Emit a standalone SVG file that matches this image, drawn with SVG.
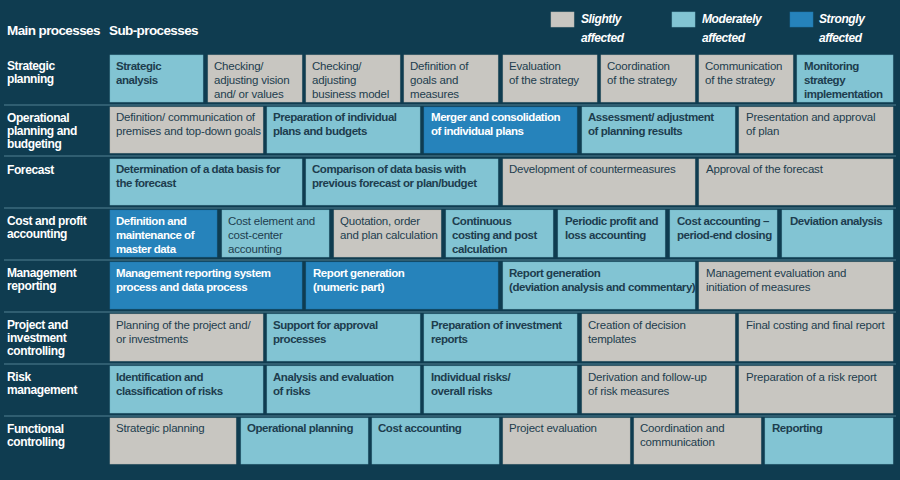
<svg xmlns="http://www.w3.org/2000/svg" width="900" height="480" viewBox="0 0 900 480">
<style>
text{font-family:"Liberation Sans",Arial,sans-serif;font-size:11.5px;fill:#1d3d4e;letter-spacing:-0.2px}
.b{font-weight:bold;letter-spacing:-0.45px}
.w{fill:#ffffff;font-weight:bold;font-size:12px;letter-spacing:-0.4px}
.h{fill:#ffffff;font-weight:bold;font-size:13.5px;letter-spacing:-0.6px}
.lg{fill:#ffffff;font-weight:bold;font-style:italic;font-size:12px;letter-spacing:-0.4px}
.g{fill:#c8c6c1;stroke:#b8b6b1;stroke-width:0.5}
.l{fill:#82c4d3;stroke:#72b4c3;stroke-width:0.5}
.s{fill:#2683bb;stroke:#1f76aa;stroke-width:0.5}
.sg text{fill:#ffffff}
.sep{stroke:#3d6a7d;stroke-width:1.5}
</style>
<rect width="900" height="480" fill="#0f3c50"/>
<g id="header">
<text class="h" x="7" y="35">Main processes</text>
<text class="h" x="109" y="35">Sub-processes</text>
<rect class="g" x="551" y="12" width="23" height="15"/><text class="lg" x="581" y="23">Slightly</text><text class="lg" x="581" y="42">affected</text>
<rect class="l" x="672" y="12" width="23" height="15"/><text class="lg" x="702" y="23">Moderately</text><text class="lg" x="702" y="42">affected</text>
<rect class="s" x="790" y="12" width="23" height="15"/><text class="lg" x="819" y="23">Strongly</text><text class="lg" x="819" y="42">affected</text>
</g>
<g id="connectors">
<line class="sep" x1="4" y1="105" x2="896" y2="105"/>
<line class="sep" x1="4" y1="156" x2="896" y2="156"/>
<line class="sep" x1="4" y1="208" x2="896" y2="208"/>
<line class="sep" x1="4" y1="260" x2="896" y2="260"/>
<line class="sep" x1="4" y1="312" x2="896" y2="312"/>
<line class="sep" x1="4" y1="364" x2="896" y2="364"/>
<line class="sep" x1="4" y1="416" x2="896" y2="416"/>
</g>
<g id="row-labels">
<text class="w" x="7" y="70">Strategic</text><text class="w" x="7" y="83">planning</text>
<text class="w" x="7" y="122">Operational</text><text class="w" x="7" y="135">planning and</text><text class="w" x="7" y="148">budgeting</text>
<text class="w" x="7" y="174">Forecast</text>
<text class="w" x="7" y="225">Cost and profit</text><text class="w" x="7" y="238">accounting</text>
<text class="w" x="7" y="277">Management</text><text class="w" x="7" y="290">reporting</text>
<text class="w" x="7" y="329">Project and</text><text class="w" x="7" y="342">investment</text><text class="w" x="7" y="355">controlling</text>
<text class="w" x="7" y="381">Risk</text><text class="w" x="7" y="394">management</text>
<text class="w" x="7" y="433">Functional</text><text class="w" x="7" y="446">controlling</text>
</g>
<g id="row1">
<g id="r1a"><rect class="l" x="110" y="55" width="93" height="47"/><text class="b" x="116" y="70">Strategic</text><text class="b" x="116" y="84">analysis</text></g>
<g id="r1b"><rect class="g" x="208" y="55" width="94" height="47"/><text x="214" y="70">Checking/</text><text x="214" y="84">adjusting vision</text><text x="214" y="98">and/ or values</text></g>
<g id="r1c"><rect class="g" x="306" y="55" width="94" height="47"/><text x="312" y="70">Checking/</text><text x="312" y="84">adjusting</text><text x="312" y="98">business model</text></g>
<g id="r1d"><rect class="g" x="404" y="55" width="94" height="47"/><text x="410" y="70">Definition of</text><text x="410" y="84">goals and</text><text x="410" y="98">measures</text></g>
<g id="r1e"><rect class="g" x="503" y="55" width="94" height="47"/><text x="509" y="70">Evaluation</text><text x="509" y="84">of the strategy</text></g>
<g id="r1f"><rect class="g" x="601" y="55" width="94" height="47"/><text x="607" y="70">Coordination</text><text x="607" y="84">of the strategy</text></g>
<g id="r1g"><rect class="g" x="699" y="55" width="94" height="47"/><text x="705" y="70">Communication</text><text x="705" y="84">of the strategy</text></g>
<g id="r1h"><rect class="l" x="797" y="55" width="96" height="47"/><text class="b" x="804" y="70">Monitoring</text><text class="b" x="804" y="84">strategy</text><text class="b" x="804" y="98">implementation</text></g>
</g>
<g id="row2">
<g id="r2a"><rect class="g" x="110" y="107" width="153" height="46"/><text x="116" y="121">Definition/ communication of</text><text x="116" y="135">premises and top-down goals</text></g>
<g id="r2b"><rect class="l" x="267" y="107" width="153" height="46"/><text class="b" x="273" y="121">Preparation of individual</text><text class="b" x="273" y="135">plans and budgets</text></g>
<g id="r2c" class="sg"><rect class="s" x="424" y="107" width="153" height="46"/><text class="b" x="431" y="121">Merger and consolidation</text><text class="b" x="431" y="135">of individual plans</text></g>
<g id="r2d"><rect class="l" x="582" y="107" width="153" height="46"/><text class="b" x="588" y="121">Assessment/ adjustment</text><text class="b" x="588" y="135">of planning results</text></g>
<g id="r2e"><rect class="g" x="739" y="107" width="154" height="46"/><text x="746" y="121">Presentation and approval</text><text x="746" y="135">of plan</text></g>
</g>
<g id="row3">
<g id="r3a"><rect class="l" x="110" y="159" width="192" height="46"/><text class="b" x="116" y="173">Determination of a data basis for</text><text class="b" x="116" y="187">the forecast</text></g>
<g id="r3b"><rect class="l" x="306" y="159" width="192" height="46"/><text class="b" x="312" y="173">Comparison of data basis with</text><text class="b" x="312" y="187">previous forecast or plan/budget</text></g>
<g id="r3c"><rect class="g" x="503" y="159" width="192" height="46"/><text x="509" y="173">Development of countermeasures</text></g>
<g id="r3d"><rect class="g" x="699" y="159" width="194" height="46"/><text x="706" y="173">Approval of the forecast</text></g>
</g>
<g id="row4">
<g id="r4a" class="sg"><rect class="s" x="110" y="210" width="107" height="47"/><text class="b" x="116" y="225">Definition and</text><text class="b" x="116" y="239">maintenance of</text><text class="b" x="116" y="253">master data</text></g>
<g id="r4b"><rect class="l" x="222" y="210" width="107" height="47"/><text x="228" y="225">Cost element  and</text><text x="228" y="239">cost-center</text><text x="228" y="253">accounting</text></g>
<g id="r4c"><rect class="g" x="334" y="210" width="107" height="47"/><text x="340" y="225">Quotation, order</text><text x="340" y="239">and plan calculation</text></g>
<g id="r4d"><rect class="l" x="446" y="210" width="107" height="47"/><text class="b" x="452" y="225">Continuous</text><text class="b" x="452" y="239">costing and post</text><text class="b" x="452" y="253">calculation</text></g>
<g id="r4e"><rect class="l" x="558" y="210" width="107" height="47"/><text class="b" x="565" y="225">Periodic profit and</text><text class="b" x="565" y="239">loss accounting</text></g>
<g id="r4f"><rect class="l" x="670" y="210" width="107" height="47"/><text class="b" x="677" y="225">Cost accounting –</text><text class="b" x="677" y="239">period-end closing</text></g>
<g id="r4g"><rect class="l" x="782" y="210" width="111" height="47"/><text class="b" x="790" y="225">Deviation analysis</text></g>
</g>
<g id="row5">
<g id="r5a" class="sg"><rect class="s" x="110" y="262" width="192" height="47"/><text class="b" x="116" y="277">Management reporting system</text><text class="b" x="116" y="291">process and data process</text></g>
<g id="r5b" class="sg"><rect class="s" x="306" y="262" width="192" height="47"/><text class="b" x="313" y="277">Report generation</text><text class="b" x="313" y="291">(numeric part)</text></g>
<g id="r5c"><rect class="l" x="503" y="262" width="192" height="47"/><text class="b" x="509" y="277">Report generation</text><text class="b" x="509" y="291">(deviation analysis and commentary)</text></g>
<g id="r5d"><rect class="g" x="699" y="262" width="194" height="47"/><text x="706" y="277">Management evaluation and</text><text x="706" y="291">initiation of measures</text></g>
</g>
<g id="row6">
<g id="r6a"><rect class="g" x="110" y="314" width="153" height="47"/><text x="116" y="329">Planning of the project and/</text><text x="116" y="343">or investments</text></g>
<g id="r6b"><rect class="l" x="267" y="314" width="153" height="47"/><text class="b" x="273" y="329">Support for approval</text><text class="b" x="273" y="343">processes</text></g>
<g id="r6c"><rect class="l" x="424" y="314" width="153" height="47"/><text class="b" x="431" y="329">Preparation of investment</text><text class="b" x="431" y="343">reports</text></g>
<g id="r6d"><rect class="g" x="582" y="314" width="153" height="47"/><text x="588" y="329">Creation of decision</text><text x="588" y="343">templates</text></g>
<g id="r6e"><rect class="g" x="739" y="314" width="154" height="47"/><text x="746" y="329">Final costing and final report</text></g>
</g>
<g id="row7">
<g id="r7a"><rect class="l" x="110" y="366" width="153" height="47"/><text class="b" x="116" y="381">Identification and</text><text class="b" x="116" y="395">classification of risks</text></g>
<g id="r7b"><rect class="l" x="267" y="366" width="153" height="47"/><text class="b" x="273" y="381">Analysis and evaluation</text><text class="b" x="273" y="395">of risks</text></g>
<g id="r7c"><rect class="l" x="424" y="366" width="153" height="47"/><text class="b" x="431" y="381">Individual risks/</text><text class="b" x="431" y="395">overall risks</text></g>
<g id="r7d"><rect class="g" x="582" y="366" width="153" height="47"/><text x="588" y="381">Derivation and follow-up</text><text x="588" y="395">of risk measures</text></g>
<g id="r7e"><rect class="g" x="739" y="366" width="154" height="47"/><text x="746" y="381">Preparation of a risk report</text></g>
</g>
<g id="row8">
<g id="r8a"><rect class="g" x="110" y="418" width="126" height="46"/><text x="116" y="432">Strategic planning</text></g>
<g id="r8b"><rect class="l" x="241" y="418" width="127" height="46"/><text class="b" x="247" y="432">Operational planning</text></g>
<g id="r8c"><rect class="l" x="372" y="418" width="127" height="46"/><text class="b" x="378" y="432">Cost accounting</text></g>
<g id="r8d"><rect class="g" x="503" y="418" width="127" height="46"/><text x="509" y="432">Project evaluation</text></g>
<g id="r8e"><rect class="g" x="634" y="418" width="127" height="46"/><text x="640" y="432">Coordination and</text><text x="640" y="446">communication</text></g>
<g id="r8f"><rect class="l" x="765" y="418" width="128" height="46"/><text class="b" x="772" y="432">Reporting</text></g>
</g>
</svg>
